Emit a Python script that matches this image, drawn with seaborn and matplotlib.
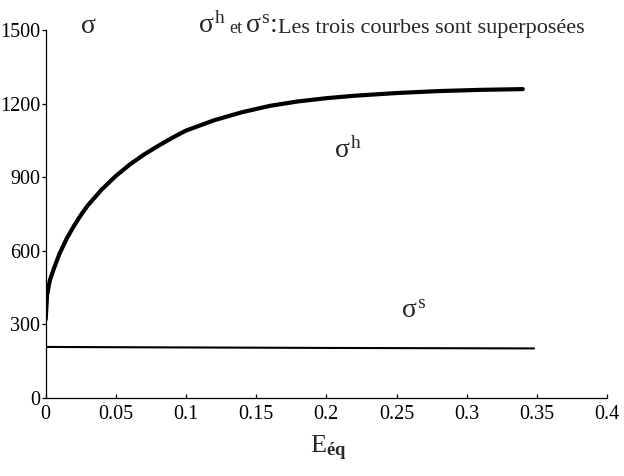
import matplotlib
matplotlib.use("Agg")
import matplotlib.pyplot as plt
import seaborn as sns
import pandas as pd

# Equivalent strain and stress values
e_h = [0.0, 0.001, 0.003, 0.006, 0.010, 0.015, 0.020, 0.025, 0.030, 0.040,
       0.050, 0.060, 0.070, 0.080, 0.090, 0.100, 0.120, 0.140, 0.160, 0.180,
       0.200, 0.220, 0.250, 0.280, 0.310, 0.340]
sigma_h = [320, 420, 480, 530, 590, 650, 700, 745, 785, 850,
           905, 952, 992, 1027, 1060, 1090, 1132, 1165, 1191, 1209,
           1222, 1232, 1243, 1251, 1256, 1259]

e_s = [0.0, 0.10, 0.20, 0.348]
sigma_s = [208, 206, 204, 202]

x_ticks = [0, 0.05, 0.1, 0.15, 0.2, 0.25, 0.3, 0.35, 0.4]
x_tick_labels = ["0", "0.05", "0.1", "0.15", "0.2", "0.25", "0.3", "0.35", "0.4"]
y_ticks = [0, 300, 600, 900, 1200, 1500]
y_tick_labels = ["0", "300", "600", "900", "1200", "1500"]

sns.set_theme(style="white")
plt.rcParams["font.family"] = ["Liberation Serif", "DejaVu Serif"]
plt.rcParams["mathtext.fontset"] = "custom"
plt.rcParams["mathtext.rm"] = "Liberation Serif"
plt.rcParams["mathtext.it"] = "Liberation Serif"
plt.rcParams["mathtext.bf"] = "Liberation Serif:bold"

fig = plt.figure(figsize=(6.24, 4.76), dpi=100)
ax = fig.add_axes([0.0732, 0.1639, 0.8996, 0.7731])

df_h = pd.DataFrame({"E": e_h, "sigma": sigma_h})
df_s = pd.DataFrame({"E": e_s, "sigma": sigma_s})
sns.lineplot(data=df_h, x="E", y="sigma", ax=ax, color="black", lw=3, sort=False)
sns.lineplot(data=df_s, x="E", y="sigma", ax=ax, color="black", lw=1.5, sort=False)

ax.set_xlim(0, 0.4)
ax.set_ylim(0, 1500)
ax.set_xticks(x_ticks)
ax.set_xticklabels(x_tick_labels)
ax.set_yticks(y_ticks)
ax.set_yticklabels(y_tick_labels)
ax.set_xlabel("")
ax.set_ylabel("")

for side in ["top", "right"]:
    ax.spines[side].set_visible(False)
for side in ["left", "bottom"]:
    ax.spines[side].set_color("black")
    ax.spines[side].set_linewidth(0.9)

ax.tick_params(axis="x", direction="in", length=3, width=0.9, colors="black",
               labelsize=14.5, pad=5)
ax.tick_params(axis="y", direction="out", length=3, width=0.9, colors="black",
               labelsize=14.5, pad=1)
ax.xaxis.set_ticks_position("bottom")
ax.yaxis.set_ticks_position("left")

# Axis title and annotations
fig.text(0.128, 0.931, r"$\sigma$", fontsize=20, ha="left", va="baseline")
fig.text(0.318, 0.931, r"$\sigma^{\mathrm{h}}$", fontsize=20, ha="left", va="baseline")
fig.text(0.368, 0.931, "et", fontsize=13, ha="left", va="baseline")
fig.text(0.392, 0.931, r"$\sigma^{\mathrm{s}}$:", fontsize=20, ha="left", va="baseline")
fig.text(0.445, 0.931, "Les trois courbes sont superposées", fontsize=16,
         ha="left", va="baseline")

fig.text(0.535, 0.668, r"$\sigma^{\mathrm{h}}$", fontsize=20, ha="left", va="baseline")
fig.text(0.643, 0.332, r"$\sigma^{\mathrm{s}}$", fontsize=20, ha="left", va="baseline")

fig.text(0.496, 0.048, r"E$_{\mathbf{éq}}$", fontsize=19, ha="left", va="baseline")

fig.savefig("out.png", dpi=100, facecolor="white")
